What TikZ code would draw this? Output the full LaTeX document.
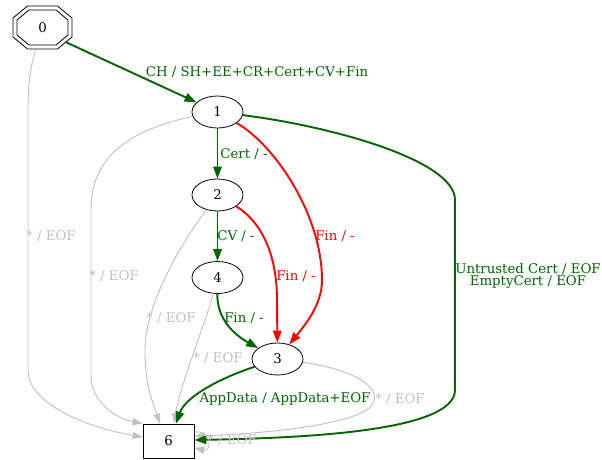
\documentclass[tikz,border=0pt]{standalone}
\usepackage{fontspec}
\setmainfont{DejaVu Serif}
\usetikzlibrary{arrows.meta,shapes.geometric}
\definecolor{dgreen}{RGB}{0,100,0}
\definecolor{lgray}{RGB}{192,192,192}
\begin{document}
\begin{tikzpicture}[x=1pt,y=-1pt,
  every node/.style={font=\fontsize{13.3}{15}\selectfont},
  st/.style={draw=black,line width=0.8pt,ellipse,minimum width=51pt,minimum height=32pt,inner sep=0pt},
  sq/.style={draw=black,line width=0.8pt,rectangle,minimum width=51pt,minimum height=34pt,inner sep=0pt},
  ge/.style={-{Triangle[length=12pt,width=8.5pt]},draw=dgreen,line width=1.9pt},
  re/.style={-{Triangle[length=12pt,width=8.5pt]},draw=red,line width=1.9pt},
  gr/.style={-{Triangle[length=10pt,width=7pt]},draw=lgray,line width=0.9pt},
  glab/.style={text=dgreen,inner sep=1pt},
  rlab/.style={text=red,inner sep=1pt},
  ylab/.style={text=lgray,inner sep=1pt}]
\useasboundingbox (0,0) rectangle (602,459);
% node 0: double octagon
\draw[line width=0.8pt] (27.5,6) -- (57.5,6) -- (72,18) -- (72,37) -- (57.5,49) -- (27.5,49) -- (13,37) -- (13,18) -- cycle;
\draw[line width=0.8pt] (29,10) -- (56,10) -- (68,20) -- (68,35) -- (56,45) -- (29,45) -- (17,35) -- (17,20) -- cycle;
\node[inner sep=0pt,minimum width=59pt,minimum height=43pt] (n0) at (42.5,27.5) {0};
\coordinate (n0e) at (65.5,42);
\coordinate (n0s) at (36,49);
\node[st] (n1) at (217.5,112) {1};
\node[st] (n2) at (217.5,195) {2};
\node[st] (n4) at (217.5,277.5) {4};
\node[st] (n3) at (277.5,359) {3};
\node[sq] (n6) at (168.5,441) {6};
% edges
\draw[ge] (n0e) -- (n1);
\node[glab] (l01) at (257,72) {CH / SH+EE+CR+Cert+CV+Fin};
\draw[gr] (n0s) .. controls (31,65) and (28,80) .. (28,110) -- (28,370) .. controls (28,405) and (90,428) .. (n6.west |- 0,437);
\node[ylab] (l06) at (51,236) {* / EOF};
\draw[gr] (n1.190) .. controls (140,128) and (91,150) .. (91,210) -- (91,375) .. controls (91,402) and (115,418) .. (n6.north west);
\node[ylab] (l16) at (114,276) {* / EOF};
\draw[ge] (n1) -- (n2);
\node[glab] (l12) at (244,154) {Cert / -};
\draw[ge] (n2) -- (n4);
\node[glab] (l24) at (236,236) {CV / -};
\draw[re] (n1) .. controls (275,145) and (322,215) .. (322,280) .. controls (322,305) and (305,325) .. (n3);
\node[rlab] (l13) at (335,236) {Fin / -};
\draw[re] (n2) .. controls (262,222) and (277,255) .. (277,300) -- (n3);
\node[rlab] (l23) at (296,276) {Fin / -};
\draw[gr] (n2) .. controls (180,245) and (145,305) .. (145,350) .. controls (145,385) and (152,400) .. (n6.north -| 160,0);
\node[ylab] (l26) at (171,318) {* / EOF};
\draw[ge] (n4) .. controls (217,320) and (235,335) .. (n3);
\node[glab] (l43) at (244,318) {Fin / -};
\draw[gr] (n4) .. controls (205,325) and (180,385) .. (n6.north -| 174,0);
\node[ylab] (l46) at (218,358) {* / EOF};
\draw[ge] (n3) .. controls (215,380) and (185,398) .. (n6.north -| 176,0);
\node[glab] (l36) at (285,399) {AppData / AppData+EOF};
\draw[gr] (n3) .. controls (345,368) and (385,385) .. (372,405) .. controls (358,425) and (260,434) .. (n6.east |- 0,436);
\node[ylab] (l36b) at (400,399) {* / EOF};
\draw[ge] (n1) .. controls (330,126) and (455,160) .. (455,200) -- (455,390) .. controls (455,432) and (300,438) .. (n6.east |- 0,440);
\node[glab,align=center,inner sep=0pt] (l16b) at (528,276) {Untrusted Cert / EOF\\[-3pt]EmptyCert / EOF};
\draw[gr] (n6.east |- 0,432) .. controls (212,430) and (212,452) .. (n6.east |- 0,448);
\node[ylab] (l66) at (232,440) {* / EOF};
\end{tikzpicture}
\end{document}
